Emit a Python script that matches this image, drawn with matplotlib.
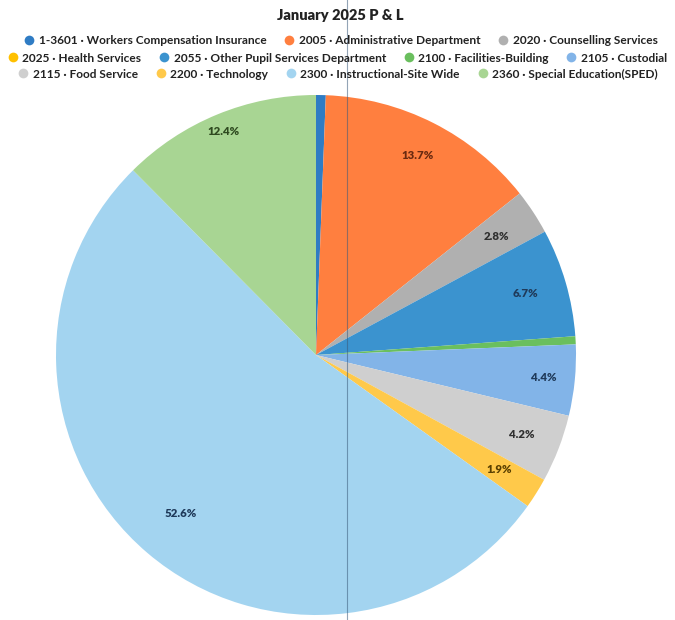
import matplotlib
matplotlib.use("Agg")
import matplotlib.pyplot as plt
from matplotlib.lines import Line2D
import numpy as np

plt.rcParams['font.family'] = ['Lato', 'DejaVu Sans']

categories = [
    "1-3601 · Workers Compensation Insurance",
    "2005 · Administrative Department",
    "2020 · Counselling Services",
    "2025 · Health Services",
    "2055 · Other Pupil Services Department",
    "2100 · Facilities-Building",
    "2105 · Custodial",
    "2115 · Food Service",
    "2200 · Technology",
    "2300 · Instructional-Site Wide",
    "2360 · Special Education(SPED)",
]
values = [0.6, 13.7, 2.8, 0.0, 6.7, 0.5, 4.4, 4.2, 1.9, 52.6, 12.4]
colors = ["#2F7CC4", "#FF7F3F", "#B0B0B0", "#FFC000", "#3B93CF", "#6ABF5E",
          "#82B4E8", "#CFCFCF", "#FFC94A", "#A3D4F0", "#A8D593"]
label_colors = ["#1F3A5A", "#6A2A10", "#303030", "#5A4000", "#1F3A5A", "#1F4020",
                "#1F3A5A", "#303030", "#5A4000", "#1F3A5A", "#2F4A20"]
label_radius = [0.8, 0.86, 0.83, 0.8, 0.84, 0.8, 0.88, 0.85, 0.83, 0.8, 0.93]

fig = plt.figure(figsize=(6.75, 6.2), dpi=100)
ax = fig.add_axes([56/675, 5/620, 520/675, 520/620])

wedges, _ = ax.pie(values, colors=colors, startangle=90, counterclock=False,
                   radius=1.0, wedgeprops=dict(linewidth=0))
ax.set_xlim(-1, 1)
ax.set_ylim(-1, 1)
ax.set_aspect('equal')
ax.axis('off')

for w, v, lc, lr in zip(wedges, values, label_colors, label_radius):
    if v < 1.0:
        continue
    ang = np.deg2rad((w.theta1 + w.theta2) / 2)
    ax.text(lr * np.cos(ang), lr * np.sin(ang), f"{v:.1f}%",
            ha='center', va='center', fontsize=8.2, fontweight='heavy', color=lc)

fig.text(0.504, 1 - 15/620, "January 2025 P & L", ha='center', va='center',
         fontsize=10.5, fontweight='heavy', color='#222222')

handles = [Line2D([], [], marker='o', linestyle='none', markersize=7,
                  markerfacecolor=w.get_facecolor(), markeredgewidth=0)
           for w in wedges]
rows = [(0, 3, 0.505, 1 - 41/620), (3, 7, 0.500, 1 - 58/620), (7, 11, 0.501, 1 - 74/620)]
for a, b, xc, yc in rows:
    leg = fig.legend(handles[a:b], categories[a:b], loc='center', bbox_to_anchor=(xc, yc),
                     ncol=b - a, frameon=False, handlelength=0.8,
                     handletextpad=0.4, columnspacing=1.5, borderpad=0, borderaxespad=0,
                     prop=dict(weight='bold', size=8.6))
    for t in leg.get_texts():
        t.set_color('#222222')

fig.add_artist(Line2D([347/675, 347/675], [0, 1], transform=fig.transFigure,
                      color='#3A5A7A', linewidth=0.8, alpha=0.55))

fig.savefig("out.png", dpi=100)
